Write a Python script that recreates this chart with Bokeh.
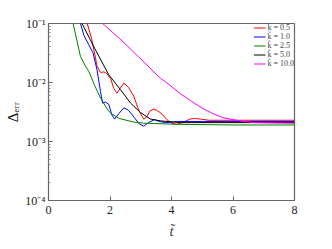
import numpy as np
from bokeh.plotting import figure
from bokeh.models import CustomJSTickFormatter, FixedTicker, Legend, LegendItem
from bokeh.embed import file_html
from bokeh.resources import INLINE

# ---- data (log10 of Delta_err) ----
t_05 = [1.0, 1.26, 1.4, 1.58, 1.69, 1.8, 1.9, 2.02, 2.12, 2.23, 2.33, 2.45, 2.6, 2.77, 2.9, 3.0, 3.1, 3.2,
        3.3, 3.43, 3.55, 3.7, 3.85, 4.0, 4.18, 4.4, 4.6, 4.75, 4.95, 5.2, 5.6, 8.0]
l_05 = [-0.7, -1.0, -1.25, -1.72, -1.83, -1.82, -1.85, -1.93, -2.1, -2.18, -2.1, -2.01, -2.08, -2.23, -2.42,
        -2.54, -2.62, -2.58, -2.48, -2.45, -2.48, -2.54, -2.63, -2.69, -2.71, -2.67, -2.62, -2.61, -2.62,
        -2.64, -2.64, -2.64]

t_10 = [0.85, 1.04, 1.15, 1.3, 1.45, 1.58, 1.69, 1.76, 1.85, 1.96, 2.06, 2.15, 2.3, 2.45, 2.6, 2.8, 2.95,
        3.1, 3.25, 3.45, 3.6, 3.8, 4.2, 5.0, 8.0]
l_10 = [-0.6, -1.0, -1.2, -1.35, -1.5, -1.79, -2.15, -2.35, -2.33, -2.37, -2.55, -2.62, -2.52, -2.43, -2.47,
        -2.6, -2.7, -2.74, -2.68, -2.63, -2.66, -2.68, -2.66, -2.66, -2.66]

t_25 = [0.6, 0.8, 1.04, 1.2, 1.31, 1.5, 1.69, 1.91, 2.02, 2.3, 2.77, 3.1, 4.3, 6.0, 8.0]
l_25 = [-0.7, -1.0, -1.56, -1.72, -1.81, -2.05, -2.26, -2.45, -2.52, -2.61, -2.67, -2.69, -2.71, -2.72, -2.72]

t_50 = [0.9, 1.09, 1.5, 1.96, 2.34, 2.67, 2.99, 3.32, 3.64, 4.29, 8.0]
l_50 = [-0.8, -1.0, -1.42, -1.87, -2.12, -2.35, -2.51, -2.62, -2.65, -2.68, -2.68]

t_100 = [1.5, 1.76, 2.3, 2.94, 3.64, 3.84, 4.29, 4.65, 5.05, 5.4, 5.7, 6.0, 6.35, 6.7, 8.0]
l_100 = [-0.88, -1.0, -1.25, -1.57, -1.93, -2.0, -2.19, -2.32, -2.45, -2.54, -2.6, -2.63, -2.66, -2.68, -2.69]

labels = ["k\u0303 = 0.5", "k\u0303 = 1.0", "k\u0303 = 2.5", "k\u0303 = 5.0", "k\u0303 = 10.0"]
colors = ["#ff0000", "#0000ff", "#008000", "#000000", "#ff00ff"]
series = [(t_05, l_05), (t_10, l_10), (t_25, l_25), (t_50, l_50), (t_100, l_100)]

x_ticks = [0, 2, 4, 6, 8]
y_ticks = [1e-4, 1e-3, 1e-2, 1e-1]

FONT = "Liberation Serif"

p = figure(width=324, height=241, output_backend="svg", toolbar_location=None,
           x_range=(0, 8), y_range=(1e-4, 1e-1), y_axis_type="log",
           min_border_left=48, min_border_right=30, min_border_top=23, min_border_bottom=39)
p.grid.visible = False
p.outline_line_color = "#666666"
p.outline_line_width = 1.2

items = []
for (t, l), c, lab in zip(series, colors, labels):
    r = p.line(t, list(10.0 ** np.array(l)), line_color=c, line_width=1)
    items.append(LegendItem(label=lab, renderers=[r]))

leg = Legend(items=items, location="top_right", margin=0, padding=1, spacing=0,
             label_height=9, glyph_height=9, glyph_width=12, label_standoff=2,
             label_text_font_size="8px", label_text_font=FONT,
             border_line_color=None, background_fill_alpha=0)
p.add_layout(leg)

p.xaxis.ticker = FixedTicker(ticks=x_ticks)
p.yaxis.ticker = FixedTicker(ticks=y_ticks, minor_ticks=[m * 10.0 ** e for e in range(-4, -1) for m in range(2, 10)])
p.yaxis.formatter = CustomJSTickFormatter(code="""
const sup = {'-':'\u207b','0':'\u2070','1':'\u00b9','2':'\u00b2','3':'\u00b3','4':'\u2074'};
const e = Math.round(Math.log10(tick)).toString();
return '10' + e.split('').map(ch => sup[ch]).join('');
""")
for ax in (p.xaxis[0], p.yaxis[0]):
    ax.axis_line_color = "#666666"
    ax.major_tick_line_color = "#666666"
    ax.minor_tick_line_color = "#888888"
    ax.major_tick_in = 4
    ax.major_tick_out = 0
    ax.minor_tick_in = 2
    ax.minor_tick_out = 0
    ax.major_label_text_font = FONT
    ax.major_label_text_font_size = "12px"
    ax.major_label_text_color = "#222222"
p.xaxis.minor_tick_line_color = None
p.yaxis.major_label_standoff = 3
p.xaxis.major_label_standoff = 5
p.xaxis.axis_label = "t\u0303"
p.xaxis.axis_label_text_font = FONT
p.xaxis.axis_label_text_font_style = "italic"
p.xaxis.axis_label_text_font_size = "15px"
p.xaxis.axis_label_standoff = 6

p.yaxis.axis_label = "\u0394\u2091\u1d63\u1d63"
p.yaxis.axis_label_text_font = FONT
p.yaxis.axis_label_text_font_style = "normal"
p.yaxis.axis_label_text_font_size = "15px"
p.yaxis.axis_label_text_color = "#111111"
p.yaxis.axis_label_standoff = 1

open("out.html", "w").write(file_html(p, INLINE))
